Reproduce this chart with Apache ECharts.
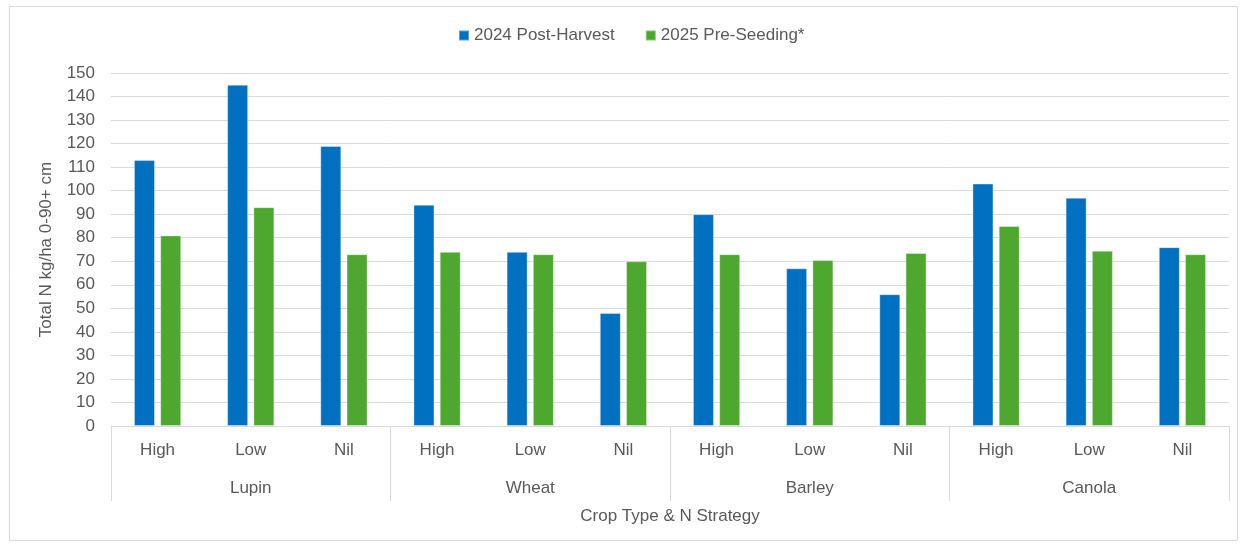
<!DOCTYPE html>
<html>
<head>
<meta charset="utf-8">
<script src="https://cdn.jsdelivr.net/npm/echarts@6/dist/echarts.min.js"></script>
<style>
  html, body { margin: 0; padding: 0; background: #fff; }
  #chart { width: 1245px; height: 546px; }
</style>
</head>
<body>
<div id="chart"></div>
<script>
// N strategies within each crop, and the crop groups beneath them
const strategies = ['High', 'Low', 'Nil', 'High', 'Low', 'Nil', 'High', 'Low', 'Nil', 'High', 'Low', 'Nil'];
const crops = ['Lupin', 'Wheat', 'Barley', 'Canola'];

// Total N (kg/ha, 0-90+ cm)
const postHarvest2024 = [113, 145, 119, 94, 74, 48, 90, 67, 56, 103, 97, 76];
const preSeeding2025 = [81, 93, 73, 74, 73, 70, 73, 70.5, 73.5, 85, 74.5, 73];

const seriesNames = ['2024 Post-Harvest', '2025 Pre-Seeding*'];

const textColor = '#595959';
const gridColor = '#d9d9d9';
const font = 'Liberation Sans, Arial, sans-serif';

const chart = echarts.init(document.getElementById('chart'));

chart.setOption({
  backgroundColor: '#ffffff',
  animation: false,
  textStyle: { fontFamily: font, color: textColor },
  graphic: [{
    type: 'rect',
    silent: true,
    shape: { x: 9.5, y: 6.5, width: 1228, height: 534 },
    style: { fill: 'none', stroke: gridColor, lineWidth: 1 }
  }],
  legend: {
    left: 453,
    top: 22,
    itemWidth: 10,
    itemHeight: 10,
    itemGap: 30,
    icon: 'rect',
    textStyle: { fontSize: 17, color: textColor, fontFamily: font },
    data: seriesNames
  },
  grid: { left: 111, right: 16, top: 73, bottom: 120, containLabel: false },
  xAxis: [
    {
      type: 'category',
      data: strategies,
      axisLine: { show: true, lineStyle: { color: gridColor, width: 1 } },
      axisTick: { show: false },
      axisLabel: { margin: 16, fontSize: 17, color: textColor, fontFamily: font }
    },
    {
      type: 'category',
      data: crops,
      position: 'bottom',
      axisLine: { show: false },
      axisTick: { show: true, length: 75, lineStyle: { color: gridColor, width: 1 } },
      axisLabel: { margin: 54, fontSize: 17, color: textColor, fontFamily: font },
      name: 'Crop Type & N Strategy',
      nameLocation: 'middle',
      nameGap: 82,
      nameTextStyle: { fontSize: 17, color: textColor, fontFamily: font }
    }
  ],
  yAxis: {
    type: 'value',
    min: 0,
    max: 150,
    interval: 10,
    axisLine: { show: false },
    axisTick: { show: false },
    axisLabel: { margin: 16, fontSize: 17, color: textColor, fontFamily: font },
    splitLine: { lineStyle: { color: gridColor, width: 1 } },
    name: 'Total N kg/ha 0-90+ cm',
    nameLocation: 'middle',
    nameGap: 56,
    nameTextStyle: { fontSize: 17, color: textColor, fontFamily: font }
  },
  series: [
    {
      name: seriesNames[0],
      type: 'bar',
      xAxisIndex: 0,
      data: postHarvest2024,
      barWidth: 21,
      barGap: '25%',
      itemStyle: { color: '#0070C0', borderColor: 'rgba(255,255,255,0.35)', borderWidth: 1 }
    },
    {
      name: seriesNames[1],
      type: 'bar',
      xAxisIndex: 0,
      data: preSeeding2025,
      barWidth: 21,
      barGap: '25%',
      itemStyle: { color: '#4EA72E', borderColor: 'rgba(255,255,255,0.35)', borderWidth: 1 }
    }
  ]
});
</script>
</body>
</html>
